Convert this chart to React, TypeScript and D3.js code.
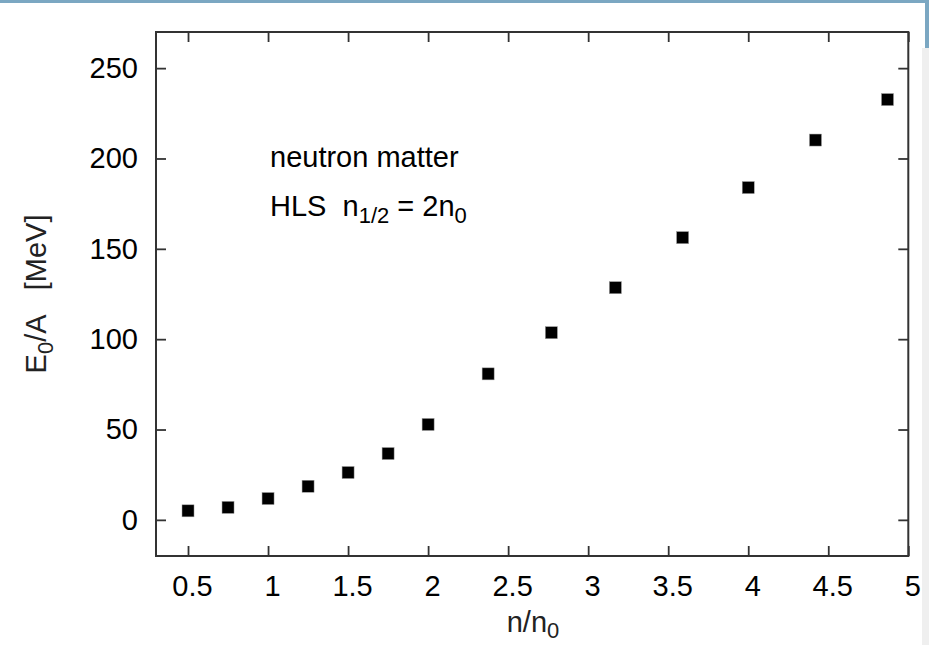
import React, { useRef, useEffect } from 'react';
import * as d3 from 'd3';

// density n/n0 and energy per particle E0/A [MeV]
const densities = [0.5, 0.75, 1, 1.25, 1.5, 1.75, 2, 2.375, 2.77, 3.17, 3.59, 4.0, 4.42, 4.87];
const energies = [5.0, 6.9, 11.8, 18.6, 26.2, 36.7, 52.8, 80.8, 103.6, 128.5, 156.2, 183.9, 210.2, 232.6];
const xTicks = [0.5, 1, 1.5, 2, 2.5, 3, 3.5, 4, 4.5, 5];
const yTicks = [0, 50, 100, 150, 200, 250];

const W = 929;
const H = 645;
const FONT = '"Liberation Sans", Arial, sans-serif';
const FS = '29px';
const SUB = '22px';

const App = () => {
  const svgRef = useRef<SVGSVGElement>(null);

  useEffect(() => {
    const svg = d3.select(svgRef.current);
    svg.selectAll('*').remove();

    const margin = { top: 32, right: 21, bottom: 89, left: 156 };
    const left = margin.left;
    const top = margin.top;
    const bottom = H - margin.bottom;

    const x = d3.scaleLinear().domain([0.3, 5]).range([left, 908.3]);
    const y = d3.scaleLinear().domain([-20, 270]).range([bottom, top]);

    // page chrome: blue band on top, grey strip on the right
    svg.append('rect').attr('x', 0).attr('y', 0).attr('width', W).attr('height', H).attr('fill', '#fff');
    svg.append('rect').attr('x', 922).attr('y', 48).attr('width', 7).attr('height', H - 48).attr('fill', '#efefef');
    svg.append('rect').attr('x', 925).attr('y', 0).attr('width', 4).attr('height', 48).attr('fill', '#7ba7c2');
    svg.append('rect').attr('x', 0).attr('y', 0).attr('width', W).attr('height', 3).attr('fill', '#7ba7c2');

    const axisStyle = (g: any) => {
      g.select('.domain').remove();
      g.selectAll('line').attr('stroke', '#333').attr('stroke-width', 1.8);
      g.selectAll('text')
        .attr('fill', '#000')
        .style('font-family', FONT)
        .style('font-size', FS);
    };

    svg.append('g')
      .attr('transform', `translate(0,${bottom})`)
      .call(d3.axisBottom(x).tickValues(xTicks).tickSize(-10).tickSizeOuter(0).tickPadding(19).tickFormat(d3.format('')))
      .call(axisStyle)
      .selectAll('text').attr('dx', 4);

    svg.append('g')
      .attr('transform', `translate(0,${top})`)
      .call(d3.axisTop(x).tickValues(xTicks).tickSize(-10).tickSizeOuter(0).tickFormat(() => ''))
      .call(axisStyle);

    svg.append('g')
      .attr('transform', `translate(${left},0)`)
      .call(d3.axisLeft(y).tickValues(yTicks).tickSize(-10).tickSizeOuter(0).tickPadding(18))
      .call(axisStyle);

    svg.append('g')
      .attr('transform', `translate(${x(5)},0)`)
      .call(d3.axisRight(y).tickValues(yTicks).tickSize(-10).tickSizeOuter(0).tickFormat(() => ''))
      .call(axisStyle);

    svg.append('rect')
      .attr('x', left)
      .attr('y', top)
      .attr('width', x(5) - left)
      .attr('height', bottom - top)
      .attr('fill', 'none')
      .attr('stroke', '#333')
      .attr('stroke-width', 2);

    // data points
    const size = 12;
    svg.append('g')
      .selectAll('rect')
      .data(densities.map((d, i) => ({ n: d, e: energies[i] })))
      .enter().append('rect')
      .attr('x', d => x(d.n) - size / 2)
      .attr('y', d => y(d.e) - size / 2)
      .attr('width', size)
      .attr('height', size)
      .attr('fill', '#000')
      .attr('stroke', '#999')
      .attr('stroke-width', 0.5);

    // annotation
    const note = svg.append('g').style('font-family', FONT).attr('fill', '#000');
    note.append('text').attr('x', 270).attr('y', 167).style('font-size', FS).text('neutron matter');
    const hls = note.append('text').attr('x', 270).attr('y', 216).style('font-size', FS);
    hls.append('tspan').text('HLS\u00a0\u00a0n');
    hls.append('tspan').attr('dy', 7).style('font-size', SUB).text('1/2');
    hls.append('tspan').attr('dy', -7).text('\u00a0= 2n');
    hls.append('tspan').attr('dy', 7).style('font-size', SUB).text('0');

    // axis titles
    const xt = svg.append('text')
      .attr('x', 533).attr('y', 632)
      .attr('text-anchor', 'middle')
      .style('font-family', FONT).style('font-size', FS).attr('fill', '#222');
    xt.append('tspan').text('n/n');
    xt.append('tspan').attr('dy', 6).style('font-size', SUB).text('0');

    const yt = svg.append('text')
      .attr('transform', `translate(46,${(top + bottom) / 2}) rotate(-90)`)
      .attr('text-anchor', 'middle')
      .style('font-family', FONT).style('font-size', FS).attr('fill', '#222');
    yt.append('tspan').text('E');
    yt.append('tspan').attr('dy', 7).style('font-size', SUB).text('0');
    yt.append('tspan').attr('dy', -7).text('/A\u00a0\u00a0\u00a0[MeV]');
  }, []);

  return (
    <svg ref={svgRef} width={W} height={H} style={{ position: 'absolute', left: 0, top: 0 }}></svg>
  );
};

export default App;
